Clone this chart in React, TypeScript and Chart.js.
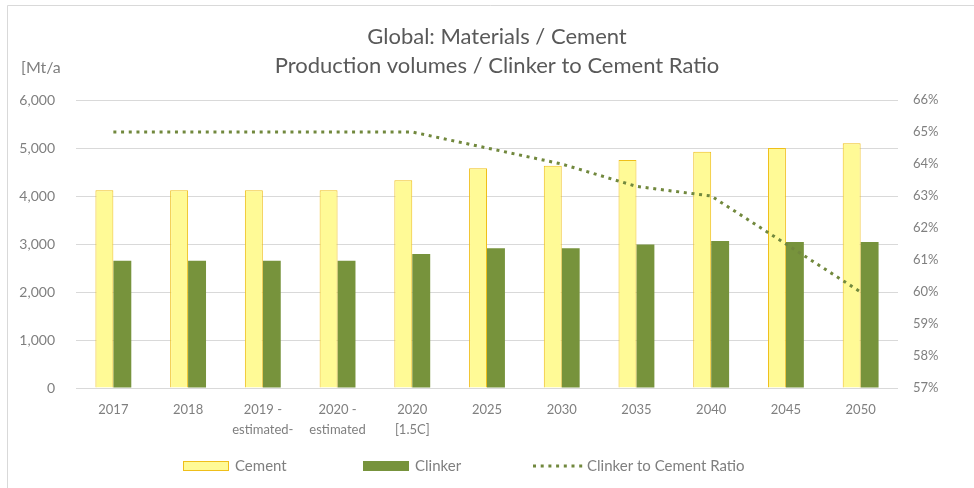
import React, { useEffect, useRef } from "react";
import { Chart, registerables } from "chart.js";

Chart.register(...registerables);

// ---- data ----
const categories: (string | string[])[] = [
  "2017",
  "2018",
  ["2019 -", "estimated-"],
  ["2020 -", "estimated"],
  ["2020", "[1.5C]"],
  "2025",
  "2030",
  "2035",
  "2040",
  "2045",
  "2050",
];
const cementValues = [4120, 4120, 4120, 4120, 4330, 4580, 4630, 4750, 4920, 5000, 5100];
const clinkerValues = [2650, 2650, 2650, 2650, 2790, 2910, 2910, 2990, 3060, 3040, 3040];
const ratioValues = [65, 65, 65, 65, 65, 64.5, 64, 63.3, 63, 61.5, 60];

const leftMin = 0;
const leftMax = 6000;
const leftStep = 1000;
const rightMin = 57;
const rightMax = 66;
const rightStep = 1;

const titleLines = ["Global: Materials / Cement", "Production volumes / Clinker to Cement Ratio"];
const unitLabel = "[Mt/a";
const seriesNames = ["Cement", "Clinker", "Clinker to Cement Ratio"];

// ---- styles ----
const FONT = "Lato, 'Open Sans', sans-serif";
const TEXT_GRAY = "#7f7f7f";
const GRID = "#d9d9d9";
const CEMENT_FILL = "#FFFA96";
const CEMENT_BORDER = "#EFBF1A";
const CLINKER_FILL = "#77933C";
const RATIO_COLOR = "#71883d";

const decorPlugin = {
  id: "decor",
  beforeDraw(chart: any) {
    const ctx = chart.ctx;
    ctx.save();
    ctx.fillStyle = "#ffffff";
    ctx.fillRect(0, 0, chart.width, chart.height);
    ctx.strokeStyle = GRID;
    ctx.lineWidth = 1;
    ctx.beginPath();
    ctx.moveTo(7.5, chart.height);
    ctx.lineTo(7.5, 5.5);
    ctx.lineTo(chart.width, 5.5);
    ctx.stroke();
    ctx.restore();
  },
  afterDraw(chart: any) {
    const ctx = chart.ctx;
    const { left, right } = chart.chartArea;
    ctx.save();
    // title
    ctx.fillStyle = "#595959";
    ctx.font = `22px ${FONT}`;
    ctx.textAlign = "center";
    ctx.textBaseline = "alphabetic";
    const cx = (left + right) / 2 + 10;
    ctx.fillText(titleLines[0], cx, 44);
    ctx.fillText(titleLines[1], cx, 73);
    // unit label
    ctx.font = `16px ${FONT}`;
    ctx.fillStyle = TEXT_GRAY;
    ctx.textAlign = "left";
    ctx.textBaseline = "middle";
    ctx.fillText(unitLabel, 21, 68);
    // legend
    const ly = 466;
    const starts = [183, 363, 533];
    const ds = chart.data.datasets;
    // order in datasets: [ratio, cement, clinker]
    const legendItems = [ds[1], ds[2], ds[0]];
    ctx.font = `15px ${FONT}`;
    legendItems.forEach((d: any, i: number) => {
      const x = starts[i];
      if (d.type === "line") {
        ctx.save();
        ctx.strokeStyle = d.borderColor;
        ctx.lineWidth = d.borderWidth;
        ctx.setLineDash(d.borderDash);
        ctx.beginPath();
        ctx.moveTo(x, ly);
        ctx.lineTo(x + 50, ly);
        ctx.stroke();
        ctx.restore();
      } else {
        ctx.fillStyle = d.backgroundColor;
        ctx.fillRect(x, ly - 5, 46, 10);
        if (d.borderWidth) {
          ctx.strokeStyle = d.borderColor;
          ctx.lineWidth = 1;
          ctx.strokeRect(x + 0.5, ly - 4.5, 45, 9);
        }
      }
      ctx.fillStyle = TEXT_GRAY;
      ctx.textAlign = "left";
      ctx.textBaseline = "middle";
      ctx.fillText(d.label, x + (d.type === "line" ? 54 : 52), ly);
    });
    ctx.restore();
  },
};

export default function App() {
  const canvasRef = useRef<HTMLCanvasElement | null>(null);

  useEffect(() => {
    document.body.style.margin = "0";
    const canvas = canvasRef.current;
    if (!canvas) return;
    const chart = new Chart(canvas, {
      type: "bar",
      data: {
        labels: categories as any,
        datasets: [
          {
            type: "line",
            label: seriesNames[2],
            data: ratioValues,
            yAxisID: "y1",
            borderColor: RATIO_COLOR,
            borderWidth: 3,
            borderDash: [3, 4.7],
            pointRadius: 0,
            fill: false,
            tension: 0,
            order: 0,
          } as any,
          {
            type: "bar",
            label: seriesNames[0],
            data: cementValues,
            yAxisID: "y",
            backgroundColor: CEMENT_FILL,
            borderColor: CEMENT_BORDER,
            borderWidth: 1,
            barPercentage: 1,
            categoryPercentage: 0.48,
            order: 1,
          },
          {
            type: "bar",
            label: seriesNames[1],
            data: clinkerValues,
            yAxisID: "y",
            backgroundColor: CLINKER_FILL,
            borderWidth: 0,
            barPercentage: 1,
            categoryPercentage: 0.48,
            order: 2,
          },
        ],
      },
      options: {
        responsive: false,
        animation: false,
        layout: { padding: { top: 100, left: 0, right: 0, bottom: 0 } },
        plugins: {
          legend: { display: false },
          title: { display: false },
          tooltip: { enabled: false },
        },
        scales: {
          x: {
            grid: { display: false, drawTicks: false },
            border: { display: false },
            ticks: {
              color: TEXT_GRAY,
              font: { family: FONT, size: 13, lineHeight: 1.55 },
              padding: 12,
              maxRotation: 0,
              autoSkip: false,
            },
            afterFit(scale: any) {
              scale.height = 100;
            },
          },
          y: {
            position: "left",
            min: leftMin,
            max: leftMax,
            grid: { color: GRID, lineWidth: 1, drawTicks: false },
            border: { display: false },
            ticks: {
              stepSize: leftStep,
              color: TEXT_GRAY,
              font: { family: FONT, size: 14 },
              padding: 21,
              callback: (v: any) => Number(v).toLocaleString("en-US"),
            },
            afterFit(scale: any) {
              scale.width = 76;
            },
          },
          y1: {
            position: "right",
            min: rightMin,
            max: rightMax,
            grid: { display: false, drawTicks: false },
            border: { display: false },
            ticks: {
              stepSize: rightStep,
              color: TEXT_GRAY,
              font: { family: FONT, size: 13 },
              padding: 15,
              callback: (v: any) => `${v}%`,
            },
            afterFit(scale: any) {
              scale.width = 76;
            },
          },
        },
      },
      plugins: [decorPlugin],
    });
    return () => chart.destroy();
  }, []);

  return (
    <div style={{ width: 974, height: 488, position: "relative" }}>
      <canvas ref={canvasRef} width={974} height={488} style={{ display: "block" }} />
    </div>
  );
}
